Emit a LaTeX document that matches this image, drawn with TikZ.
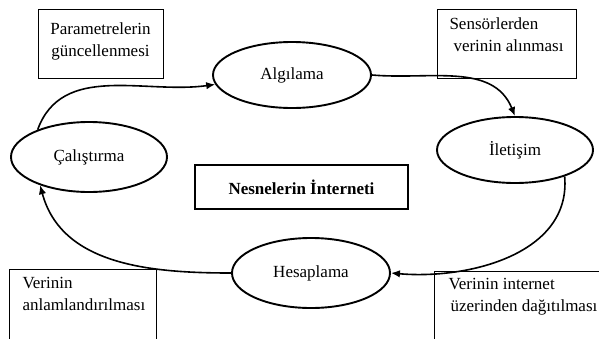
\documentclass[tikz,border=0pt]{standalone}
\usepackage{fontspec}
\setmainfont{Liberation Serif}
\usetikzlibrary{arrows.meta,shapes.geometric}
\begin{document}
\begin{tikzpicture}[x=1pt,y=-1pt,
  every node/.style={font=\fontsize{17}{22}\selectfont},
  stage/.style={draw,ellipse,line width=1.9pt,inner sep=0pt},
  infobox/.style={draw,line width=0.9pt},
  flow/.style={line width=1.6pt,-{Latex[length=9pt,width=7.5pt]}}]
\useasboundingbox (0,0) rectangle (599,338);
\clip (0,0) rectangle (599,338);

% process stages
\node[stage,minimum width=158pt,minimum height=66pt] (alg) at (292,75) {Algılama};
\node[stage,minimum width=156pt,minimum height=66pt] (ilt) at (515,150) {İletişim};
\node[stage,minimum width=156pt,minimum height=70pt] (cal) at (89,157) {Çalıştırma};
\node[stage,minimum width=158pt,minimum height=70pt] (hes) at (311,273) {Hesaplama};

% centre title
\node[draw,line width=1.9pt,minimum width=213pt,minimum height=44pt,font=\fontsize{17}{22}\selectfont\bfseries] (title) at (301.5,187) {Nesnelerin İnterneti};

% description boxes
\draw[infobox] (38,9) rectangle (163,78);
\node[align=center] (d1) at (100.5,41) {Parametrelerin\\güncellenmesi};
\draw[infobox] (437,9) rectangle (576,78);
\node[align=left,anchor=north west] (d2) at (446,14) {Sensörlerden\\\hspace*{4pt}verinin alınması};
\draw[infobox] (9,345) -- (9,269) -- (156,269) -- (156,345);
\node[align=left,anchor=north west] (d3) at (19,274) {Verinin\\anlamlandırılması};
\draw[infobox] (434,345) -- (434,271) -- (605,271);
\node[align=left,anchor=north west] (d4) at (445,275) {Verinin internet\\\hspace*{2pt}üzerinden dağıtılması};

% cycle
\draw[flow] (cal.152) to[out=70,in=188] (alg.187);
\draw[flow] (alg.east) to[out=-5,in=112] (ilt.north);
\draw[flow] (ilt.-28) to[out=-85,in=-5] (hes.east);
\draw[flow] (hes.west) to[out=180,in=-75] (cal.-150);
\end{tikzpicture}
\end{document}
